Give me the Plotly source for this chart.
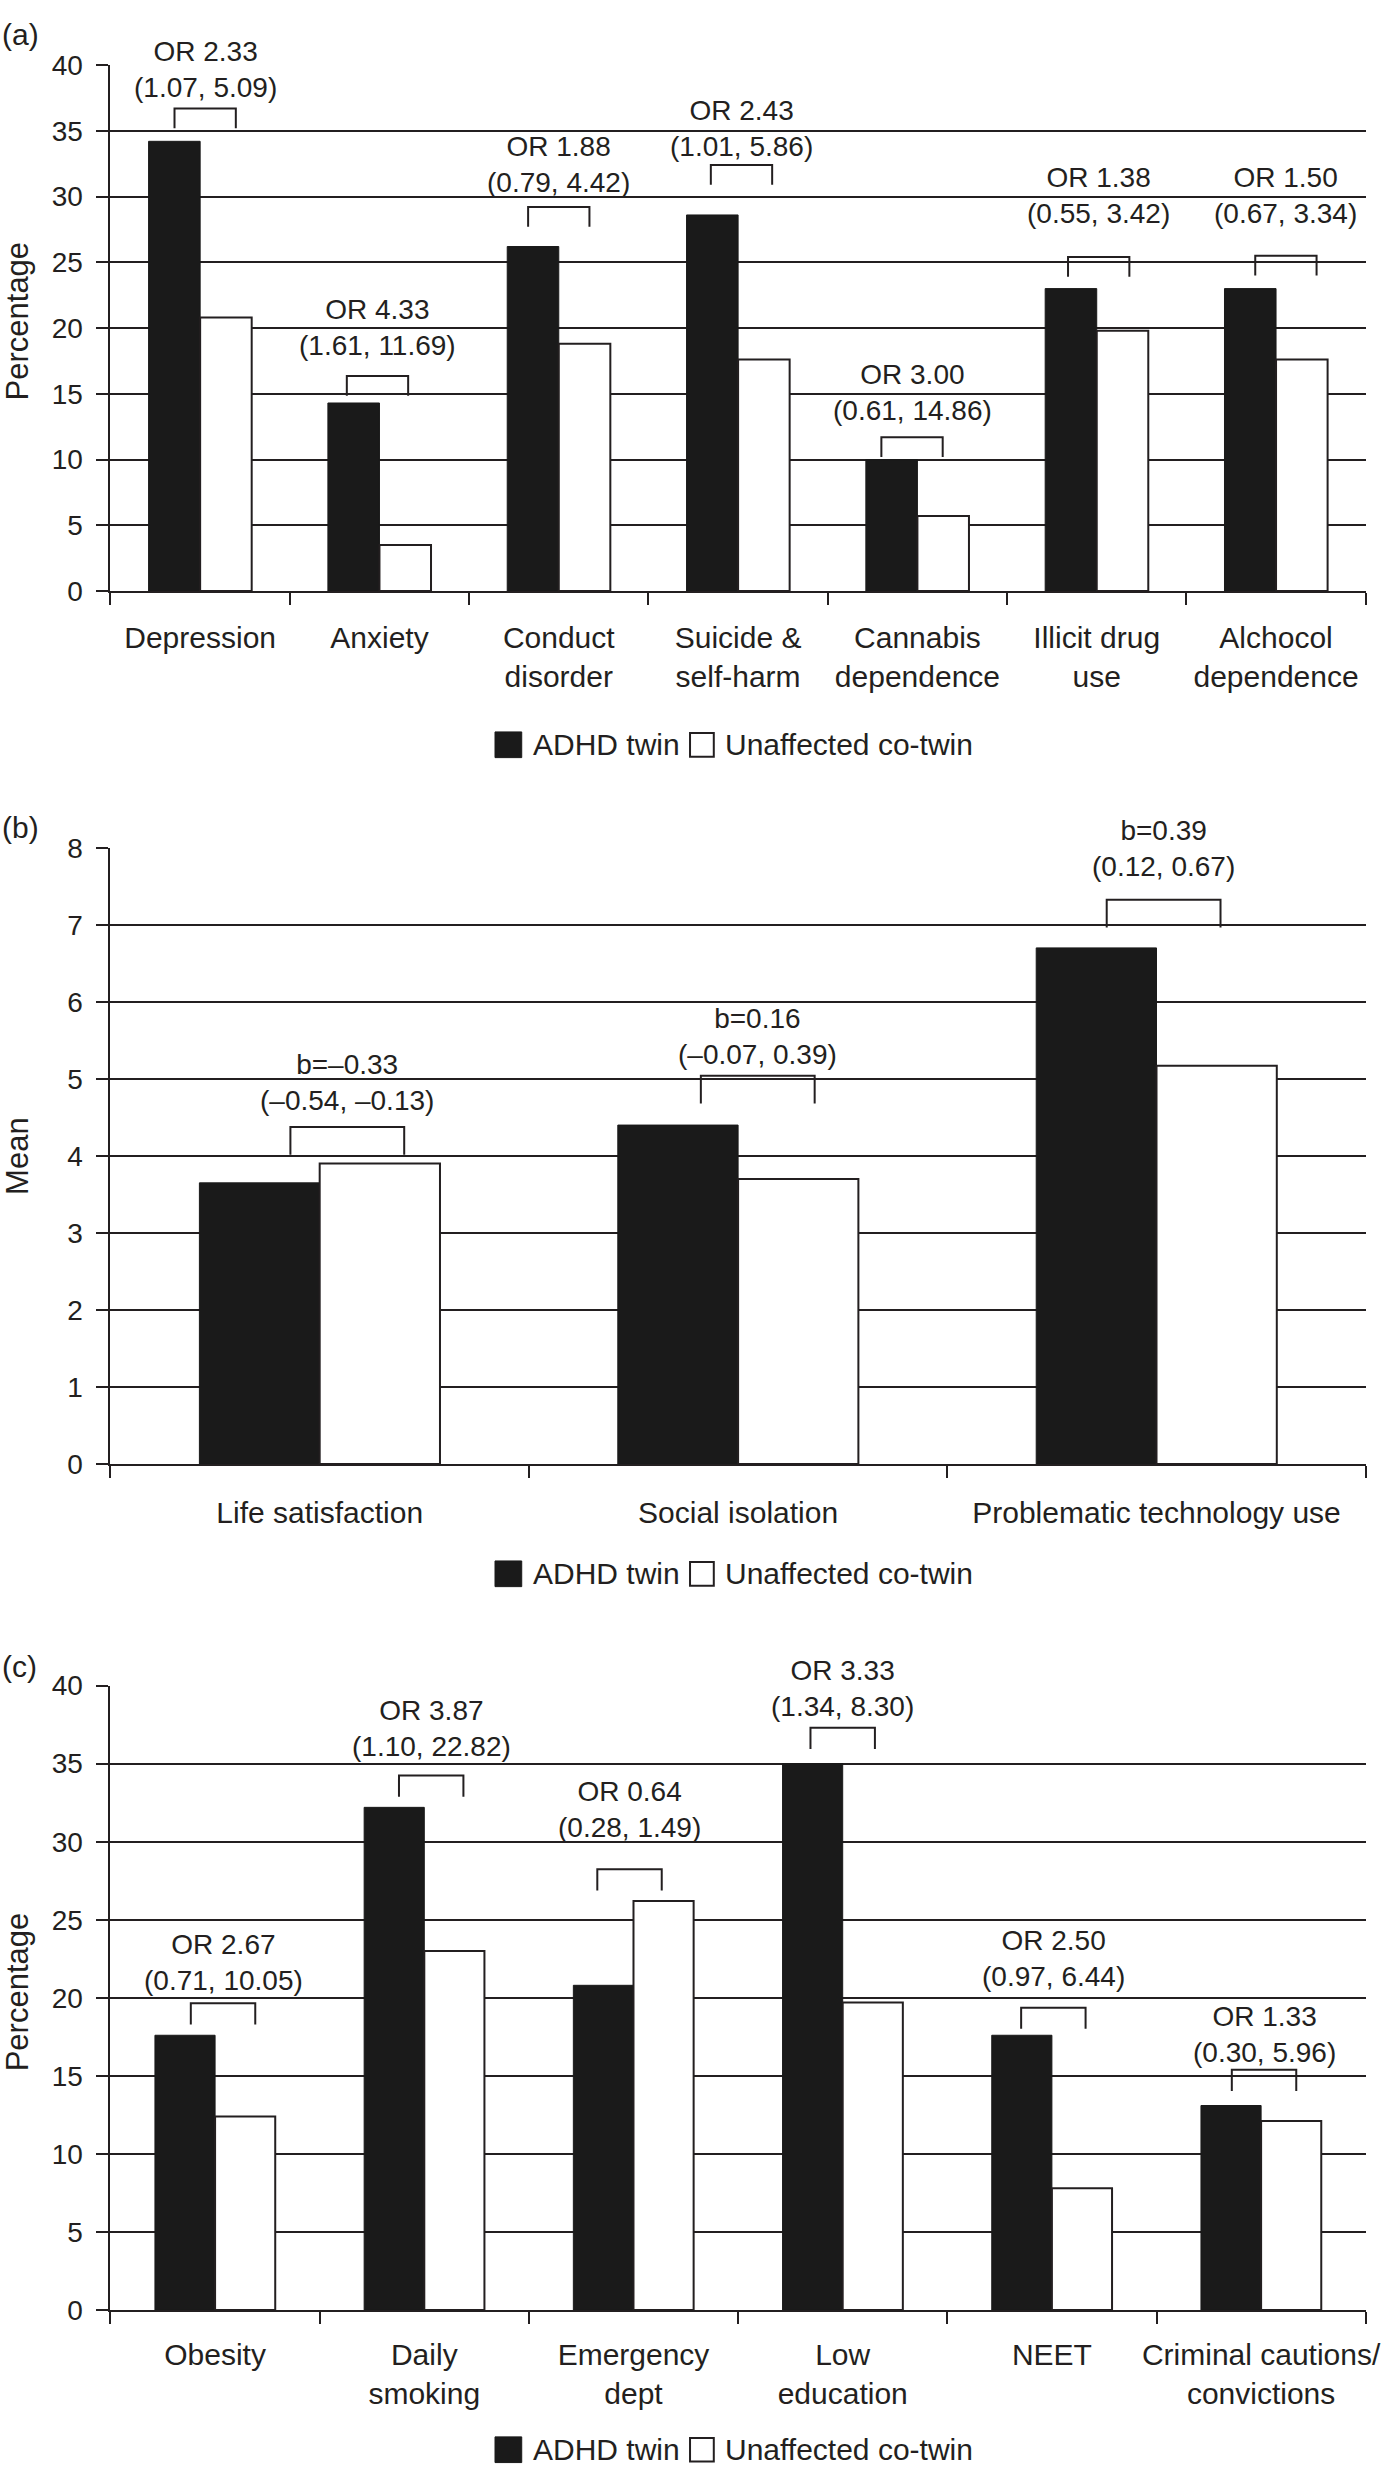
import plotly.graph_objects as go

# ---------------- data ----------------
legend_names = ["ADHD twin", "Unaffected co-twin"]

a_categories = ["Depression", "Anxiety", "Conduct<br>disorder", "Suicide &<br>self-harm",
                "Cannabis<br>dependence", "Illicit drug<br>use", "Alchocol<br>dependence"]
a_adhd = [34.2, 14.3, 26.2, 28.6, 10.0, 23.0, 23.0]
a_cotwin = [20.8, 3.5, 18.8, 17.6, 5.7, 19.8, 17.6]
a_stats = ["OR 2.33<br>(1.07, 5.09)", "OR 4.33<br>(1.61, 11.69)", "OR 1.88<br>(0.79, 4.42)",
           "OR 2.43<br>(1.01, 5.86)", "OR 3.00<br>(0.61, 14.86)", "OR 1.38<br>(0.55, 3.42)",
           "OR 1.50<br>(0.67, 3.34)"]
a_ytitle = "Percentage"

b_categories = ["Life satisfaction", "Social isolation", "Problematic technology use"]
b_adhd = [3.65, 4.40, 6.70]
b_cotwin = [3.90, 3.70, 5.17]
b_stats = ["b=\u20130.33<br>(\u20130.54, \u20130.13)", "b=0.16<br>(\u20130.07, 0.39)",
           "b=0.39<br>(0.12, 0.67)"]
b_ytitle = "Mean"

c_categories = ["Obesity", "Daily<br>smoking", "Emergency<br>dept", "Low<br>education",
                "NEET", "Criminal cautions/<br>convictions"]
c_adhd = [17.6, 32.2, 20.8, 35.0, 17.6, 13.1]
c_cotwin = [12.4, 23.0, 26.2, 19.7, 7.8, 12.1]
c_stats = ["OR 2.67<br>(0.71, 10.05)", "OR 3.87<br>(1.10, 22.82)", "OR 0.64<br>(0.28, 1.49)",
           "OR 3.33<br>(1.34, 8.30)", "OR 2.50<br>(0.97, 6.44)", "OR 1.33<br>(0.30, 5.96)"]
c_ytitle = "Percentage"

# ---------------- annotation placement (layout, not data) ----------------
a_bracket_top = [36.7, 16.35, 29.2, 32.4, 11.7, 25.4, 25.5]
a_label_mid = [39.68, 20.03, 32.42, 35.16, 15.12, 30.08, 30.08]
a_bracket_shift = [0.028, -0.011, 0.0, 0.019, -0.030, 0.011, 0.055]

b_bracket_top = [4.375, 5.04, 7.325]
b_label_mid = [4.955, 5.553, 7.99]
b_bracket_shift = [0.066, 0.047, 0.017]

c_bracket_top = [19.65, 34.24, 28.23, 37.3, 19.37, 15.39]
c_label_mid = [22.25, 37.22, 32.06, 39.82, 22.5, 17.65]
c_bracket_shift = [0.038, 0.033, -0.019, 0.0, 0.007, 0.014]

# ---------------- styling / geometry ----------------
W, H = 1400, 2484
PLOT_L, PLOT_R = 111.6, 1379.5
DARK = "#231f20"
BARBLACK = "#1a1a1a"
FONT = "Liberation Sans, Arial, sans-serif"

panels = [
    dict(tag="(a)", cats=a_categories, adhd=a_adhd, cot=a_cotwin, stats=a_stats,
         btop=a_bracket_top, lmid=a_label_mid, bshift=a_bracket_shift, ytitle=a_ytitle,
         top=50.7, bottom=583.3, ymax=40, dtick=5, bargap=0.425, half=0.171, leg_px=20,
         tag_y=20, title_y=310, legend_y=739, standoff=19),
    dict(tag="(b)", cats=b_categories, adhd=b_adhd, cot=b_cotwin, stats=b_stats,
         btop=b_bracket_top, lmid=b_label_mid, bshift=b_bracket_shift, ytitle=b_ytitle,
         top=843.3, bottom=1467.3, ymax=8, dtick=1, bargap=0.425, half=0.136, leg_px=28,
         tag_y=823, title_y=1155, legend_y=1578.5, standoff=21),
    dict(tag="(c)", cats=c_categories, adhd=c_adhd, cot=c_cotwin, stats=c_stats,
         btop=c_bracket_top, lmid=c_label_mid, bshift=c_bracket_shift, ytitle=c_ytitle,
         top=1691.7, bottom=2324.0, ymax=40, dtick=5, bargap=0.40, half=0.154, leg_px=21.5,
         tag_y=1672, title_y=2002, legend_y=2465.5, standoff=17),
]


def py(ypx):
    return 1 - ypx / H


def px(xpx):
    return xpx / W


fig = go.Figure()
shapes = []
annotations = []
layout_axes = {}

for k, p in enumerate(panels, start=1):
    n = len(p["cats"])
    xs = list(range(n))
    xa = "x" if k == 1 else f"x{k}"
    ya = "y" if k == 1 else f"y{k}"
    fig.add_trace(go.Bar(x=xs, y=p["adhd"], name=legend_names[0], xaxis=xa, yaxis=ya,
                         marker=dict(color=BARBLACK, line=dict(color=BARBLACK, width=1)),
                         showlegend=False, offsetgroup="adhd"))
    fig.add_trace(go.Bar(x=xs, y=p["cot"], name=legend_names[1], xaxis=xa, yaxis=ya,
                         marker=dict(color="white", line=dict(color=DARK, width=2)),
                         showlegend=False, offsetgroup="cot"))

    ax_key = "xaxis" if k == 1 else f"xaxis{k}"
    ay_key = "yaxis" if k == 1 else f"yaxis{k}"
    layout_axes[ax_key] = dict(
        domain=[px(PLOT_L), px(PLOT_R)], anchor=ya, range=[-0.5, n - 0.5],
        tickmode="array", tickvals=xs, ticktext=p["cats"], ticks="",
        showline=True, linecolor=DARK, linewidth=2, showgrid=False, zeroline=False,
        tickfont=dict(family=FONT, size=30, color=DARK), ticklabelstandoff=p["standoff"],
        minor=dict(tickmode="array", tickvals=[i - 0.5 for i in range(n + 1)],
                   ticks="outside", ticklen=12, tickwidth=2, tickcolor=DARK, showgrid=False),
        fixedrange=True,
    )
    layout_axes[ay_key] = dict(
        domain=[py(p["bottom"]), py(p["top"])], anchor=xa, range=[0, p["ymax"]],
        tickmode="linear", tick0=0, dtick=p["dtick"], ticks="outside", ticklen=12,
        tickwidth=2, tickcolor=DARK, showgrid=True, gridcolor=DARK, gridwidth=2,
        showline=True, linecolor=DARK, linewidth=2, zeroline=False,
        tickfont=dict(family=FONT, size=28, color=DARK), ticklabelstandoff=8,
        fixedrange=True,
    )

    ppu = (p["bottom"] - p["top"]) / p["ymax"]
    leg = p["leg_px"] / ppu
    for i in range(n):
        cx = i + p["bshift"][i]
        x0, x1 = cx - p["half"], cx + p["half"]
        yt = p["btop"][i]
        shapes.append(dict(type="path", xref=xa, yref=ya,
                           path=f"M {x0},{yt - leg} L {x0},{yt} L {x1},{yt} L {x1},{yt - leg}",
                           line=dict(color=DARK, width=2)))
        annotations.append(dict(x=cx, y=p["lmid"][i], xref=xa, yref=ya, text=p["stats"][i],
                                showarrow=False, xanchor="center", yanchor="middle",
                                font=dict(family=FONT, size=28, color=DARK)))

    # panel tag
    annotations.append(dict(x=0, y=py(p["tag_y"]), xref="paper", yref="paper", text=p["tag"],
                            showarrow=False, xanchor="left", yanchor="middle",
                            font=dict(family=FONT, size=30, color=DARK)))
    # y-axis title
    annotations.append(dict(x=px(17.5), y=py(p["title_y"]), xref="paper", yref="paper",
                            text=p["ytitle"], textangle=-90, showarrow=False,
                            xanchor="center", yanchor="middle",
                            font=dict(family=FONT, size=31, color=DARK)))
    # legend (drawn as key swatches + text)
    ly = p["legend_y"]
    shapes.append(dict(type="rect", xref="paper", yref="paper",
                       x0=px(500), x1=px(527), y0=py(ly + 13), y1=py(ly - 13),
                       fillcolor=BARBLACK, line=dict(color=BARBLACK, width=1)))
    shapes.append(dict(type="rect", xref="paper", yref="paper",
                       x0=px(697), x1=px(721), y0=py(ly + 12), y1=py(ly - 12),
                       fillcolor="white", line=dict(color=DARK, width=2)))
    annotations.append(dict(x=px(536), y=py(ly), xref="paper", yref="paper",
                            text=legend_names[0], showarrow=False, xanchor="left",
                            yanchor="middle", font=dict(family=FONT, size=30, color=DARK)))
    annotations.append(dict(x=px(730), y=py(ly), xref="paper", yref="paper",
                            text=legend_names[1], showarrow=False, xanchor="left",
                            yanchor="middle", font=dict(family=FONT, size=30, color=DARK)))

fig.update_layout(
    width=W, height=H, margin=dict(l=0, r=0, t=0, b=0),
    paper_bgcolor="white", plot_bgcolor="white",
    barmode="group", bargap=0.425, bargroupgap=0,
    showlegend=False, shapes=shapes, annotations=annotations,
    font=dict(family=FONT, color=DARK),
    **layout_axes,
)

fig.write_html(
    "out.html",
    config={"displayModeBar": False, "staticPlot": True},
    post_script=("document.documentElement.style.margin='0';"
                 "document.body.style.margin='0';"
                 "document.documentElement.style.overflow='hidden';"
                 "document.body.style.overflow='hidden';"),
)
